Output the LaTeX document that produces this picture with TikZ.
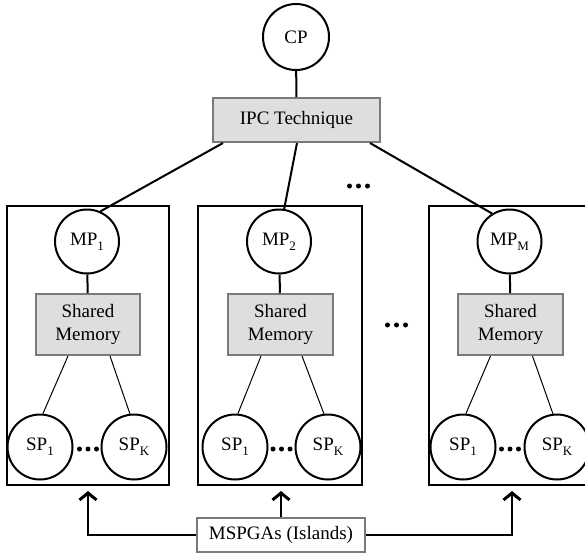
\documentclass[tikz,border=0pt]{standalone}
\usepackage{fontspec}
\setmainfont{Liberation Serif}
\usetikzlibrary{arrows.meta,calc}
\definecolor{boxfill}{HTML}{DEDEDE}
\definecolor{boxedge}{HTML}{7A7A7A}
\newcommand\mysub[1]{\raisebox{-5pt}{\fontsize{13}{13}\selectfont #1}}
\begin{document}
\begin{tikzpicture}[x=1pt,y=-1pt,font=\fontsize{19}{23}\selectfont,
  circ/.style={circle,draw=black,line width=2pt,minimum size=64pt,inner sep=0pt},
  greybox/.style={draw=boxedge,fill=boxfill,line width=2pt,inner sep=0pt,align=center},
  island/.style={draw=black,line width=2pt,minimum width=162pt,minimum height=279pt,inner sep=0pt},
  link/.style={line width=2pt},
  thin link/.style={line width=1pt},
  arr/.style={line width=2.2pt,-{Straight Barb[length=7pt,width=17pt,line width=3pt]}},
  dot/.style={fill=black}]
\useasboundingbox (0,0) rectangle (585,554);
\clip (0,0) rectangle (585,554);
% top
\node[circ,minimum size=66pt] (cp) at (296,37) {CP};
\node[greybox,minimum width=167pt,minimum height=44pt] (ipc) at (296.5,120) {IPC Technique};
\draw[link] (cp) -- (ipc);
% islands
\node[island] (isl1) at (88,345.5) {};
\node[island,minimum width=164pt] (isl2) at (280,345.5) {};
\node[island] (isl3) at (510,345.5) {};
% master processes
\node[circ] (mp1) at (87,241.5) {MP\mysub{1}};
\node[circ] (mp2) at (279,241.5) {MP\mysub{2}};
\node[circ] (mp3) at (509.5,241.5) {MP\mysub{M}};
% shared memory
\node[greybox,minimum width=104pt,minimum height=61pt] (sm1) at (88,324.5) {Shared\\Memory};
\node[greybox,minimum width=105pt,minimum height=61pt] (sm2) at (280.5,324.5) {Shared\\Memory};
\node[greybox,minimum width=105pt,minimum height=61pt] (sm3) at (510.5,324.5) {Shared\\Memory};
% slave processes
\node[circ,minimum size=65pt] (sp11) at (40,447) {SP\mysub{1}};
\node[circ,minimum size=65pt] (sp1k) at (134,447) {SP\mysub{K}};
\node[circ,minimum size=65pt] (sp21) at (235,447) {SP\mysub{1}};
\node[circ,minimum size=65pt] (sp2k) at (328,447) {SP\mysub{K}};
\node[circ,minimum size=65pt] (sp31) at (463,447) {SP\mysub{1}};
\node[circ,minimum size=65pt] (sp3k) at (557,447) {SP\mysub{K}};
% IPC links
\draw[link] ([xshift=-73.5pt]ipc.south) -- (mp1.66);
\draw[link] ([xshift=0.5pt]ipc.south) -- (mp2.81);
\draw[link] ([xshift=73.5pt]ipc.south) -- (mp3.122);
% MP to SM
\draw[link] (mp1) -- (sm1);
\draw[link] (mp2) -- (sm2);
\draw[link] (mp3) -- (sm3);
% SM to SP
\draw[thin link] ([xshift=-20pt]sm1.south) -- (sp11.85);
\draw[thin link] ([xshift=22pt]sm1.south) -- (sp1k.97);
\draw[thin link] ([xshift=-19.5pt]sm2.south) -- (sp21.85);
\draw[thin link] ([xshift=21.5pt]sm2.south) -- (sp2k.97);
\draw[thin link] ([xshift=-20pt]sm3.south) -- (sp31.85);
\draw[thin link] ([xshift=22pt]sm3.south) -- (sp3k.97);
% dots between SPs
\foreach \cx in {88,281.5,510}{
  \foreach \dx in {-8.5,0,8.5}{
    \fill[dot] (\cx+\dx,449) circle (2.5pt);
  }
}
% ellipses between islands
\foreach \dx in {-9,0,9}{
  \fill[dot] (358.5+\dx,186) circle (2.5pt);
  \fill[dot] (396.5+\dx,325) circle (2.5pt);
}
% MSPGAs
\node[draw=boxedge,line width=1.4pt,minimum width=168pt,minimum height=34pt,inner sep=0pt] (msp) at (281,535) {MSPGAs (Islands)};
\draw[arr] (msp.west) -| ([yshift=-5pt]isl1.south);
\draw[arr] (msp.north) -- ([yshift=-5pt]msp.north |- isl2.south);
\draw[arr] (msp.east) -| ([xshift=2pt,yshift=-5pt]isl3.south);
\end{tikzpicture}
\end{document}
